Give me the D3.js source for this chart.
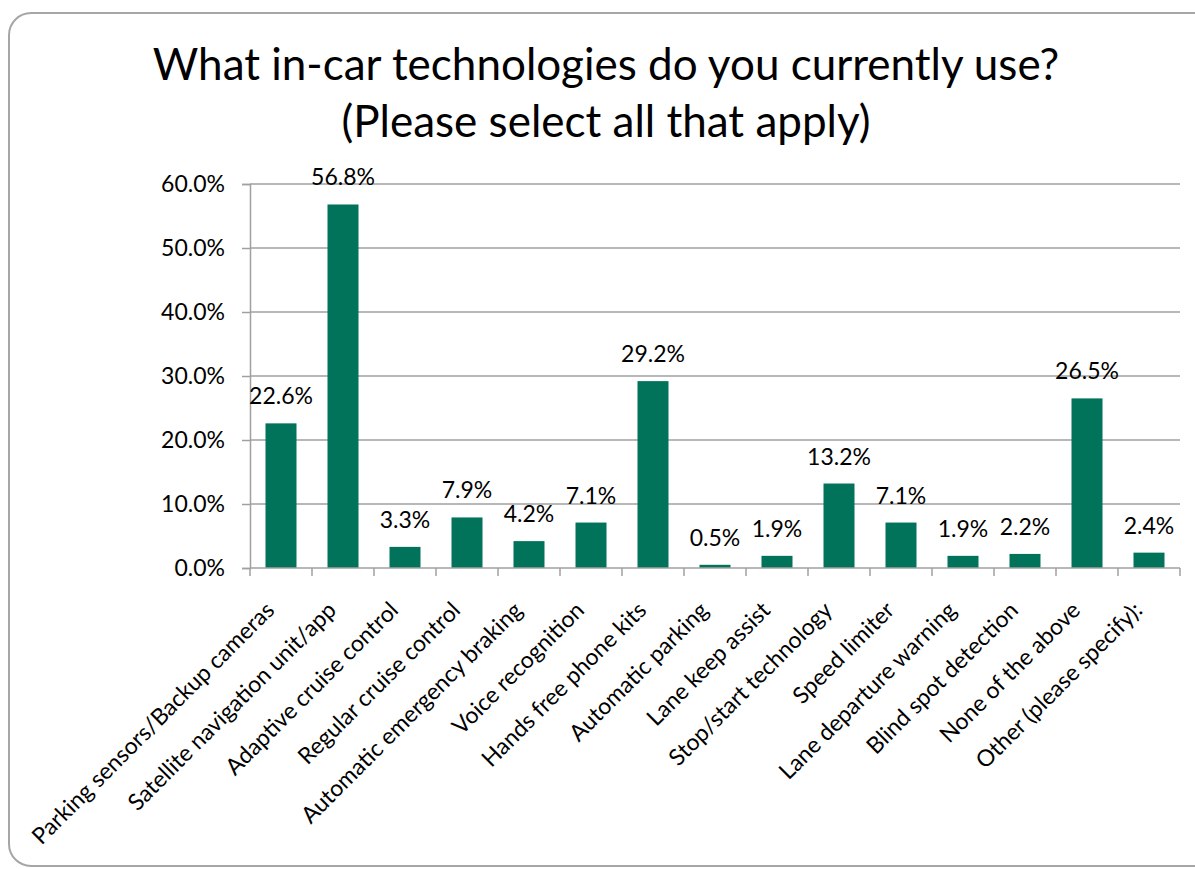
<!DOCTYPE html>
<html>
<head>
<meta charset="utf-8">
<script src="https://cdn.jsdelivr.net/npm/d3@7"></script>
<style>
  html, body { margin: 0; padding: 0; background: #fff; }
  svg { display: block; font-family: Lato, "Liberation Sans", sans-serif; }
</style>
</head>
<body>
<svg id="chart" width="1195" height="869"></svg>
<script>
// Survey answers: share of respondents using each in-car technology
const categories = [
  "Parking sensors/Backup cameras",
  "Satellite navigation unit/app",
  "Adaptive cruise control",
  "Regular cruise control",
  "Automatic emergency braking",
  "Voice recognition",
  "Hands free phone kits",
  "Automatic parking",
  "Lane keep assist",
  "Stop/start technology",
  "Speed limiter",
  "Lane departure warning",
  "Blind spot detection",
  "None of the above",
  "Other (please specify):"
];
const values = [22.6, 56.8, 3.3, 7.9, 4.2, 7.1, 29.2, 0.5, 1.9, 13.2, 7.1, 1.9, 2.2, 26.5, 2.4];
const yTicks = [0, 10, 20, 30, 40, 50, 60];
const titleLines = ["What in-car technologies do you currently use?", "(Please select all that apply)"];

const svg = d3.select("#chart");
const gridColor = "#a0a0a0";
const barColor = "#00735a";
const labelSize = 23;

// Rounded outer frame (runs off the right edge)
svg.append("rect")
  .attr("x", 9).attr("y", 13)
  .attr("width", 1240).attr("height", 853)
  .attr("rx", 22).attr("ry", 22)
  .attr("fill", "#fff")
  .attr("stroke", "#a6a6a6")
  .attr("stroke-width", 2);

// Title
svg.append("text")
  .attr("text-anchor", "middle")
  .attr("font-size", 44)
  .attr("fill", "#000")
  .selectAll("tspan").data(titleLines).join("tspan")
  .attr("x", 606)
  .attr("y", (d, i) => 80 + i * 57)
  .text(d => d);

const plot = { left: 250, right: 1180, top: 184, bottom: 568 };

const x = d3.scaleBand()
  .domain(categories)
  .range([plot.left, plot.right])
  .paddingInner(0.5).paddingOuter(0.25);

const xTickScale = d3.scaleBand().domain(categories).range([plot.left, plot.right]);

const y = d3.scaleLinear().domain([0, 60]).range([plot.bottom, plot.top]);

// Horizontal gridlines
svg.append("g")
  .selectAll("line").data(yTicks.filter(t => t > 0)).join("line")
  .attr("x1", plot.left).attr("x2", plot.right)
  .attr("y1", d => y(d)).attr("y2", d => y(d))
  .attr("stroke", gridColor).attr("stroke-width", 1.5);

// Y axis
const yAxis = svg.append("g")
  .attr("transform", `translate(${plot.left},0)`)
  .call(d3.axisLeft(y).tickValues(yTicks).tickSize(8).tickPadding(17)
    .tickFormat(d => d.toFixed(1) + "%"));
yAxis.select(".domain").attr("stroke", gridColor).attr("stroke-width", 1.5);
yAxis.selectAll(".tick line").attr("stroke", gridColor).attr("stroke-width", 1.5);
yAxis.selectAll(".tick text")
  .attr("font-size", labelSize).attr("fill", "#000")
  .attr("font-family", "Lato, sans-serif");

// Bars
svg.append("g")
  .selectAll("rect").data(values).join("rect")
  .attr("x", (d, i) => x(categories[i]))
  .attr("width", x.bandwidth())
  .attr("y", d => y(d))
  .attr("height", d => y(0) - y(d))
  .attr("fill", barColor);

// Value labels above bars
svg.append("g")
  .selectAll("text").data(values).join("text")
  .attr("x", (d, i) => x(categories[i]) + x.bandwidth() / 2)
  .attr("y", d => y(d) - 19)
  .attr("text-anchor", "middle")
  .attr("font-size", labelSize)
  .attr("fill", "#000")
  .text(d => d.toFixed(1) + "%");

// X axis baseline and category boundary ticks
const xAxisG = svg.append("g");
xAxisG.append("line")
  .attr("x1", plot.left).attr("x2", plot.right)
  .attr("y1", plot.bottom).attr("y2", plot.bottom)
  .attr("stroke", gridColor).attr("stroke-width", 1.5);
const boundaries = categories.map(c => xTickScale(c)).concat([plot.right]);
xAxisG.selectAll("line.tk").data(boundaries).join("line")
  .attr("class", "tk")
  .attr("x1", d => d).attr("x2", d => d)
  .attr("y1", plot.bottom).attr("y2", plot.bottom + 8)
  .attr("stroke", gridColor).attr("stroke-width", 1.5);

// Rotated category labels
svg.append("g")
  .selectAll("text").data(categories).join("text")
  .attr("transform", d => {
    const cx = x(d) + x.bandwidth() / 2;
    return `translate(${cx - 11},${plot.bottom + 38}) rotate(-45)`;
  })
  .attr("text-anchor", "end")
  .attr("dy", "0.35em")
  .attr("font-size", labelSize)
  .attr("fill", "#000")
  .text(d => d);
</script>
</body>
</html>
